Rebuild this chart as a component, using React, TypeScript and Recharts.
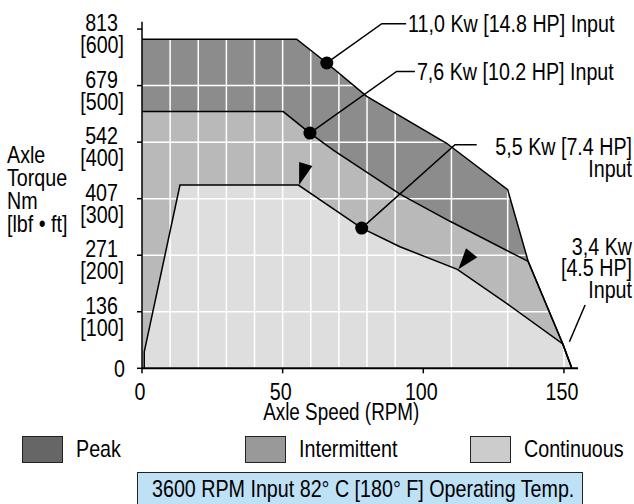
import React from 'react';
import {
  ComposedChart,
  Area,
  Line,
  XAxis,
  YAxis,
  CartesianGrid,
  ReferenceDot,
} from 'recharts';

// condensed look: Liberation Sans squeezed horizontally
const FONT = "'Liberation Sans', Arial, sans-serif";
const SX = 0.82;

// speed (RPM) / torque (lbf·ft) outlines of each operating region
const peakRpm = [0, 55.0, 65.7, 79.9, 108.3, 130.0, 137.3, 149.6, 152.8];
const peakTorque = [582, 582, 540, 481, 398, 316, 189, 43, 0];

const intermittentRpm = [0, 50.2, 59.7, 68.0, 91.7, 109.5, 137.3, 149.6, 152.8];
const intermittentTorque = [454, 454, 416, 386, 308, 260, 189, 43, 0];

const continuousRpm = [0.8, 0.8, 13.5, 55.6, 78.1, 91.7, 112.1, 129.6, 149.6, 152.8];
const continuousTorque = [0, 29, 324, 324, 248, 215, 175, 115, 43, 0];

// input power markers
const powerLabels = ['11,0 Kw [14.8 HP] Input', '7,6 Kw [10.2 HP] Input', '5,5 Kw [7.4 HP]'];
const powerRpm = [65.7, 59.7, 78.1];
const powerTorque = [540, 416, 248];
const lowPowerLabel = ['3,4 Kw', '[4.5 HP]', 'Input'];

// arrow heads on the continuous curve
const arrowRpm = [55.6, 112.1];
const arrowTorque = [324, 175];

const speedTicks = [0, 50, 100, 150];
const speedGrid = [10, 20, 30, 40, 50, 60, 70, 80, 90, 100, 110, 120, 130, 140, 150];
const torqueTicks = [0, 100, 200, 300, 400, 500, 600];
const torqueNm = ['0', '136', '271', '407', '542', '679', '813'];
const torqueLbf = ['', '[100]', '[200]', '[300]', '[400]', '[500]', '[600]'];

const legendNames = ['Peak', 'Intermittent', 'Continuous'];
const legendColors = ['#666666', '#999999', '#cccccc'];

const zip = (xs: number[], ys: number[]) => xs.map((rpm, i) => ({ rpm, torque: ys[i] }));

const peakData = zip(peakRpm, peakTorque);
const intermittentData = zip(intermittentRpm, intermittentTorque);
const continuousData = zip(continuousRpm, continuousTorque);

const NText = ({ x, y, anchor = 'start', size = 24, children }: any) => (
  <text
    transform={`translate(${x},${y}) scale(${SX},1)`}
    textAnchor={anchor}
    dominantBaseline="central"
    fontSize={size}
    fontFamily={FONT}
    fill="#000"
  >
    {children}
  </text>
);

const NSpan = ({ children, origin = 'left center' }: any) => (
  <span style={{ display: 'inline-block', transform: `scaleX(${SX})`, transformOrigin: origin, whiteSpace: 'nowrap' }}>
    {children}
  </span>
);

const YTick = ({ x, y, payload }: any) => {
  const i = torqueTicks.indexOf(payload.value);
  if (i === 0) {
    return <NText x={x - 12} y={y} anchor="end">{torqueNm[i]}</NText>;
  }
  return (
    <g>
      <NText x={x - 19} y={y - 6} anchor="end">{torqueNm[i]}</NText>
      <NText x={x - 13} y={y + 16} anchor="end">{torqueLbf[i]}</NText>
    </g>
  );
};

const XTick = ({ x, y, payload }: any) => (
  <NText x={x - 2} y={y + 18} anchor="middle">{payload.value}</NText>
);

// dot + leader + label; offsets are in pixels from the data point
const leaders = [
  { elbow: [55, -39.3], end: [79.3, -39.3] },
  { elbow: [86.7, -61.6], end: [105, -61.6] },
  { elbow: [93.3, -83.3], end: [115, -83.3] },
];

const PowerDot = (i: number) => (props: any) => {
  const { cx, cy } = props;
  const l = leaders[i];
  return (
    <g>
      <polyline
        points={`${cx},${cy} ${cx + l.elbow[0]},${cy + l.elbow[1]} ${cx + l.end[0]},${cy + l.end[1]}`}
        fill="none"
        stroke="#000"
        strokeWidth={1.5}
      />
      <circle cx={cx} cy={cy} r={6.5} fill="#000" />
      {i < 2 ? (
        <NText x={cx + l.end[0] + 2} y={cy + l.end[1]}>{powerLabels[i]}</NText>
      ) : (
        <g>
          <NText x={632} y={cy - 81.3} anchor="end">{powerLabels[i]}</NText>
          <NText x={632} y={cy - 59.3} anchor="end">Input</NText>
        </g>
      )}
    </g>
  );
};

const LowPower = (props: any) => {
  const { cx, cy } = props;
  return (
    <g>
      <line x1={cx + 6.6} y1={cy - 2.3} x2={cx + 22.3} y2={cy - 39} stroke="#000" strokeWidth={1.5} />
      <NText x={632} y={cy - 97.3} anchor="end">{lowPowerLabel[0]}</NText>
      <NText x={632} y={cy - 75.7} anchor="end">{lowPowerLabel[1]}</NText>
      <NText x={632} y={cy - 54} anchor="end">{lowPowerLabel[2]}</NText>
    </g>
  );
};

const arrowShapes = [
  [[0.7, -23], [14, -19], [0.7, 0]],
  [[1, 0], [8.7, -21], [20, -12]],
];

const Arrow = (i: number) => (props: any) => {
  const { cx, cy } = props;
  const pts = arrowShapes[i].map(([dx, dy]) => `${cx + dx},${cy + dy}`).join(' ');
  return <polygon points={pts} fill="#000" />;
};

export default function App() {
  return (
    <div style={{ position: 'absolute', left: 0, top: 0, width: 634, height: 504, background: '#fff', fontFamily: FONT, overflow: 'hidden' }}>
      <ComposedChart
        width={634}
        height={504}
        margin={{ top: 21.7, right: 56, bottom: 105.7, left: 82 }}
      >
        <XAxis
          dataKey="rpm"
          type="number"
          domain={[0, 155]}
          ticks={speedTicks}
          tick={<XTick />}
          tickSize={5}
          tickMargin={0}
          height={30}
          axisLine={{ stroke: '#000', strokeWidth: 2 }}
          tickLine={{ stroke: '#000', strokeWidth: 1.5 }}
          allowDataOverflow
        />
        <YAxis
          dataKey="torque"
          type="number"
          domain={[0, 613]}
          ticks={torqueTicks}
          tick={<YTick />}
          tickSize={5}
          tickMargin={0}
          width={60}
          axisLine={{ stroke: '#000', strokeWidth: 1.5 }}
          tickLine={{ stroke: '#000', strokeWidth: 1.5 }}
          allowDataOverflow
        />
        <Area data={peakData} dataKey="torque" type="linear" fill="#8c8c8c" fillOpacity={1} stroke="none" isAnimationActive={false} />
        <Area data={intermittentData} dataKey="torque" type="linear" fill="#b9b9b9" fillOpacity={1} stroke="none" isAnimationActive={false} />
        <Area data={continuousData} dataKey="torque" type="linear" fill="#dedede" fillOpacity={1} stroke="none" isAnimationActive={false} />
        <CartesianGrid
          stroke="#ffffff"
          strokeWidth={1.5}
          verticalValues={speedGrid}
          horizontalValues={torqueTicks}
          zIndex={250}
        />
        <Line data={peakData} dataKey="torque" type="linear" stroke="#000" strokeWidth={1.5} dot={false} isAnimationActive={false} />
        <Line data={intermittentData} dataKey="torque" type="linear" stroke="#000" strokeWidth={1.5} dot={false} isAnimationActive={false} />
        <Line data={continuousData} dataKey="torque" type="linear" stroke="#000" strokeWidth={1.5} dot={false} isAnimationActive={false} />
        {arrowRpm.map((rpm, i) => (
          <ReferenceDot key={`a${i}`} x={rpm} y={arrowTorque[i]} shape={Arrow(i)} ifOverflow="visible" />
        ))}
        {powerRpm.map((rpm, i) => (
          <ReferenceDot key={`p${i}`} x={rpm} y={powerTorque[i]} shape={PowerDot(i)} ifOverflow="visible" />
        ))}
        <ReferenceDot x={continuousRpm[8]} y={continuousTorque[8]} shape={LowPower} ifOverflow="visible" />
      </ComposedChart>

      {/* y axis title */}
      <div style={{ position: 'absolute', left: 7, top: 143, fontSize: 24, lineHeight: '23px' }}>
        <div><NSpan>Axle</NSpan></div>
        <div><NSpan>Torque</NSpan></div>
        <div><NSpan>Nm</NSpan></div>
        <div><NSpan>[lbf • ft]</NSpan></div>
      </div>

      {/* x axis title */}
      <div style={{ position: 'absolute', left: 241, width: 200, top: 399, textAlign: 'center', fontSize: 23, lineHeight: '26px' }}>
        <NSpan origin="center">Axle Speed (RPM)</NSpan>
      </div>

      {/* legend */}
      {legendNames.map((name, i) => (
        <div key={name} style={{ position: 'absolute', left: [21.7, 245, 470][i], top: 435.7, display: 'flex', alignItems: 'center' }}>
          <div style={{ width: 39, height: 25, background: legendColors[i], border: '1px solid #222', flex: 'none' }} />
          <div style={{ marginLeft: 13, fontSize: 24, lineHeight: '26px' }}><NSpan>{name}</NSpan></div>
        </div>
      ))}

      {/* footer */}
      <div
        style={{
          position: 'absolute',
          left: 137.3,
          top: 471.7,
          width: 446,
          height: 40,
          background: '#bfe1f6',
          border: '1.5px solid #222',
          fontSize: 24,
          lineHeight: '32px',
          paddingLeft: 14,
          boxSizing: 'border-box',
        }}
      >
        <NSpan>3600 RPM Input 82° C [180° F] Operating Temp.</NSpan>
      </div>
    </div>
  );
}
